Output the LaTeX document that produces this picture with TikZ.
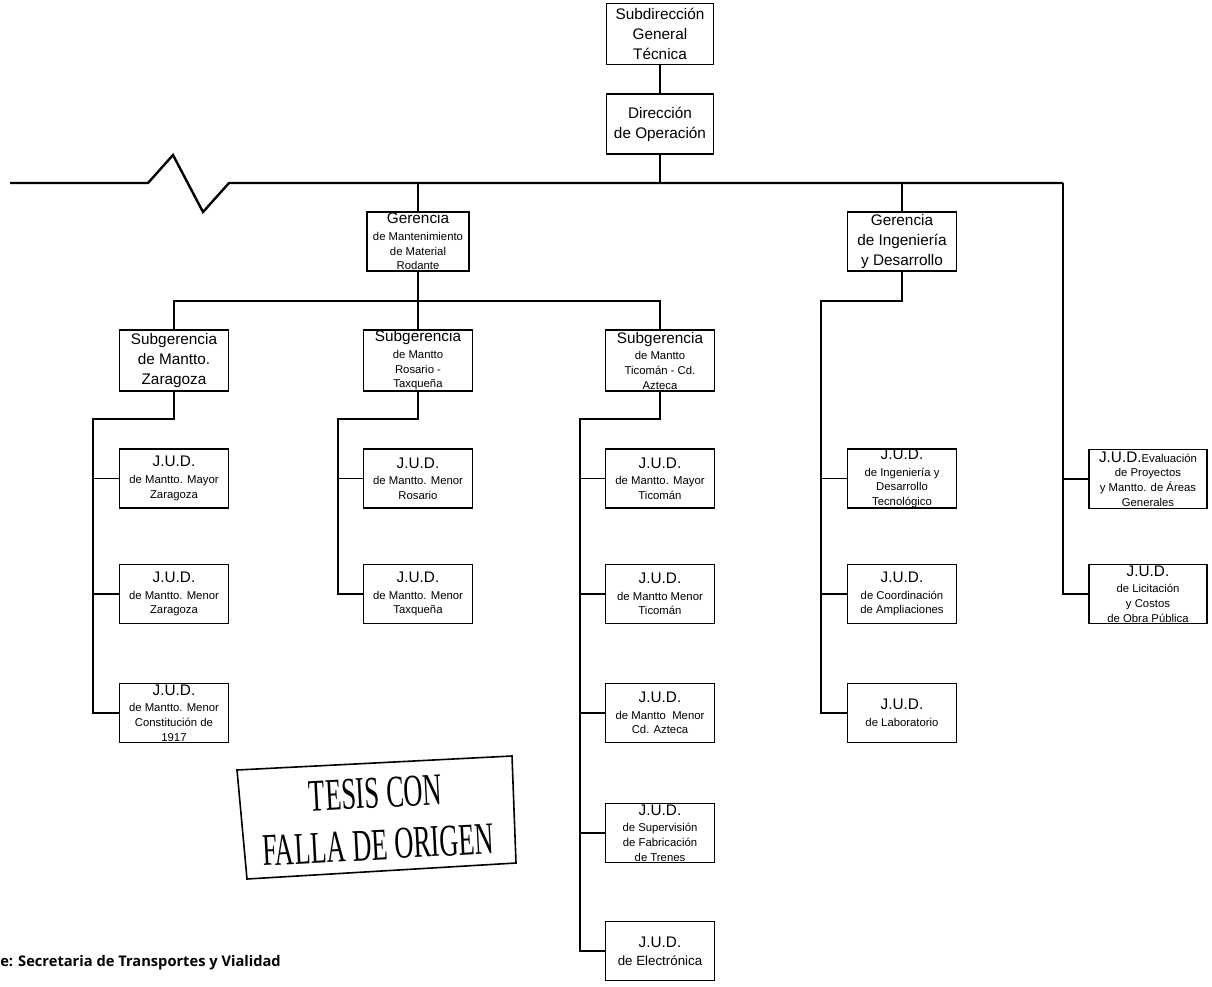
\documentclass[tikz,border=0pt]{standalone}
\usepackage{fontspec}
\setmainfont{Liberation Sans}
\newfontfamily\sellofont{Liberation Serif}
\newfontfamily\notafont{Open Sans}
\newcommand{\cab}[1]{{\fontsize{11.5}{13}\selectfont #1}\\[1.5pt]}

\begin{document}
\begin{tikzpicture}[
  x=0.75pt, y=-0.75pt,
  caja/.style={draw, line width=1.1pt, align=center, inner xsep=2pt, inner ysep=0pt, minimum width=81.75pt, minimum height=44.25pt, font=\fontsize{8.5}{11}\selectfont},
  cajag/.style={caja, font=\fontsize{11.5}{15}\selectfont},
  lin/.style={line width=1.1pt},
  bus/.style={line width=1.8pt},
  sello/.style={font=\sellofont\fontsize{34}{39}\selectfont, align=center, rotate=3, xscale=0.585, inner sep=0pt}
]
\useasboundingbox (0,0) rectangle (1212,987);
\node[cajag, minimum width=80.25pt, minimum height=45.75pt] (sdgt) at (660,34) {Subdirección\\General\\Técnica};
\node[cajag, minimum width=80.25pt, minimum height=45pt] (dop) at (660,124) {Dirección\\de Operación};
\node[caja, minimum width=76.5pt] (gmmr) at (418,241.5) {\cab{Gerencia}de Mantenimiento\\de Material\\Rodante};
\node[cajag] (gid) at (902,241.5) {Gerencia\\de Ingeniería\\y Desarrollo};
\node[cajag, minimum height=45.75pt] (sgz) at (174,360.5) {Subgerencia\\de Mantto.\\Zaragoza};
\node[caja, minimum height=45.75pt] (sgr) at (418,360.5) {\cab{Subgerencia}de Mantto\\Rosario -\\Taxqueña};
\node[caja, minimum height=45.75pt] (sgt) at (660,360.5) {\cab{Subgerencia}de Mantto\\Ticomán - Cd.\\Azteca};
\node[caja] (jz1) at (174,478.5) {\cab{J.U.D.}de Mantto. Mayor\\Zaragoza};
\node[caja] (jz2) at (174,594) {\cab{J.U.D.}de Mantto. Menor\\Zaragoza};
\node[caja] (jz3) at (174,713) {\cab{J.U.D.}de Mantto. Menor\\Constitución de\\1917};
\node[caja] (jr1) at (418,478.5) {\cab{J.U.D.}de Mantto. Menor\\Rosario};
\node[caja] (jr2) at (418,594) {\cab{J.U.D.}de Mantto. Menor\\Taxqueña};
\node[caja] (jt1) at (660,478.5) {\cab{J.U.D.}de Mantto. Mayor\\Ticomán};
\node[caja] (jt2) at (660,594) {\cab{J.U.D.}de Mantto Menor\\Ticomán};
\node[caja] (jt3) at (660,713) {\cab{J.U.D.}de Mantto\ \ Menor\\Cd. Azteca};
\node[caja] (jt4) at (660,833) {\cab{J.U.D.}de Supervisión\\de Fabricación\\de Trenes};
\node[caja, font=\fontsize{10}{12}\selectfont] (jt5) at (660,951) {\cab{J.U.D.}de Electrónica};
\node[caja] (ji1) at (902,478.5) {\cab{J.U.D.}de Ingeniería y\\Desarrollo\\Tecnológico};
\node[caja] (ji2) at (902,594) {\cab{J.U.D.}de Coordinación\\de Ampliaciones};
\node[caja] (ji3) at (902,713) {\cab{J.U.D.}de Laboratorio};
\node[caja, minimum width=88.5pt] (je1) at (1148,479) {{\fontsize{11.5}{13}\selectfont J.U.D.}Evaluación\\de Proyectos\\y Mantto. de Áreas\\Generales};
\node[caja, minimum width=88.5pt] (je2) at (1148,594) {\cab{J.U.D.}de Licitación\\y Costos\\de Obra Pública};
\coordinate (rv) at (1063,183);
\coordinate (sb) at (0,301);
\coordinate (vz) at (93,419);
\coordinate (vr) at (338,419);
\coordinate (vt) at (580,419);
\coordinate (vi) at (821,301);
\draw[bus] (10,183) -- (148,183) -- (173,155) -- (203,212) -- (229,183) -- (rv);
\draw[lin] (sdgt) -- (dop);
\draw[lin] (dop.south) -- (dop.south |- rv);
\draw[lin] (gmmr.north) -- (gmmr.north |- rv);
\draw[lin] (gid.north) -- (gid.north |- rv);
\draw[lin] (gmmr) -- (sgr);
\draw[lin] (sgz.north) -- (sgz.north |- sb) -- (sgt.north |- sb) -- (sgt.north);
\draw[lin] (sgz.south) |- (vz) |- (jz3.west);
\draw[lin] (sgr.south) |- (vr) |- (jr2.west);
\draw[lin] (sgt.south) |- (vt) |- (jt5.west);
\draw[lin] (gid.south) |- (vi) |- (ji3.west);
\draw[lin] (rv) |- (je2.west);
\foreach \j/\v in {jz1/vz, jz2/vz, jr1/vr, jt1/vt, jt2/vt, jt3/vt, jt4/vt, ji1/vi, ji2/vi, je1/rv}
  \draw[lin] (\j.west) -- (\j.west -| \v);
\draw[line width=1.2pt] (237,770) -- (512,756) -- (516,863) -- (247,879) -- cycle;
\node[sello] (leyenda) at (377,819) {TESIS CON\\FALLA DE ORIGEN};
\node[anchor=west, inner sep=0pt, font=\notafont\bfseries\fontsize{11}{13}\selectfont] (fuente) at (0,963) {e: Secretaria de Transportes y Vialidad};
\end{tikzpicture}
\end{document}
